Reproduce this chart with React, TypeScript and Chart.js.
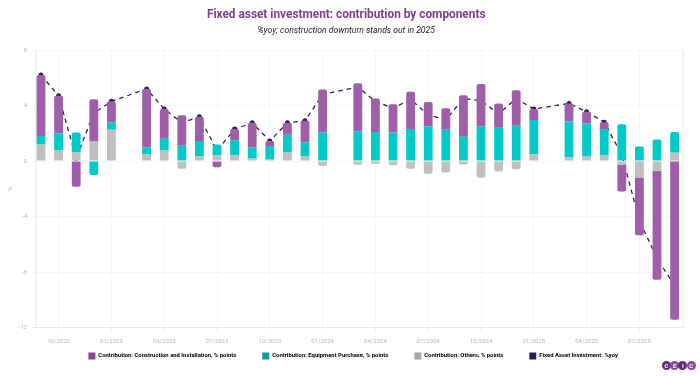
import React, { useEffect, useRef } from "react";
import { Chart, registerables } from "chart.js";

Chart.register(...registerables);

const categories = [
  "09/2022","10/2022","11/2022","12/2022","01/2023","02/2023","03/2023","04/2023","05/2023","06/2023","07/2023","08/2023",
  "09/2023","10/2023","11/2023","12/2023","01/2024","02/2024","03/2024","04/2024","05/2024","06/2024","07/2024","08/2024",
  "09/2024","10/2024","11/2024","12/2024","01/2025","02/2025","03/2025","04/2025","05/2025","06/2025","07/2025","08/2025","09/2025",
];
const construction = [4.4,2.7,-1.85,3.05,1.5,null,4.2,2.15,2.2,1.75,-0.45,0.8,1.75,0.37,0.85,1.55,3.1,null,3.45,2.4,2.05,2.7,1.75,1.55,3.0,3.05,1.75,2.55,0.8,null,1.3,0.85,0.5,-1.95,-4.12,-7.85,-11.45];
const equipment = [0.6,1.2,1.4,-1.0,0.55,null,0.5,0.8,1.1,1.1,0.8,1.08,0.8,0.93,1.25,1.0,2.05,null,2.15,2.1,2.05,2.3,2.5,2.25,1.75,2.5,2.4,2.55,2.47,null,2.6,2.37,1.9,2.65,1.05,1.56,1.5];
const others = [1.2,0.8,0.65,1.4,2.25,null,0.5,0.8,-0.55,0.35,0.4,0.42,0.2,0.15,0.65,0.35,-0.35,null,-0.27,-0.2,-0.3,-0.55,-0.92,-0.82,-0.25,-1.2,-0.75,-0.6,0.48,null,0.25,0.33,0.4,-0.25,-1.23,-0.7,0.6];
const total = [6.2,4.7,0.2,3.45,4.3,null,5.2,3.75,2.75,3.2,0.75,2.3,2.75,1.45,2.75,2.9,4.8,null,5.33,4.3,3.8,4.45,3.33,2.98,4.5,4.35,3.4,4.5,3.75,null,4.15,3.55,2.8,0.45,-4.3,-7.0,-9.0];
const seriesNames = [
  "Contribution: Construction and Installation, % points",
  "Contribution: Equipment Purchase, % points",
  "Contribution: Others, % points",
  "Fixed Asset Investment: %yoy",
];
const legendColors = ["#87488f", "#0a9a98", "#a8a8a8", "#2b1e57"];
const logoLetters = ["C", "E", "I", "C"];
const FONT = "Roboto, sans-serif";

const isQuarterTick = (label: string) => ["01", "04", "07", "10"].includes(label.slice(0, 2));

export default function App() {
  const ref = useRef<HTMLCanvasElement | null>(null);
  useEffect(() => {
    document.body.style.margin = "0";
    const chart = new Chart(ref.current!, {
      data: {
        labels: categories,
        datasets: [
          { type: "bar", label: seriesNames[0], data: construction, backgroundColor: "#a05daa", order: 3, borderRadius: 2 },
          { type: "bar", label: seriesNames[1], data: equipment, backgroundColor: "#00c9c9", order: 2, borderRadius: 2 },
          { type: "bar", label: seriesNames[2], data: others, backgroundColor: "#bfbfbf", order: 1, borderRadius: 2 },
          {
            type: "line", label: seriesNames[3], data: total, borderColor: "#2b1e57", backgroundColor: "#2b1e57",
            borderWidth: 1.3, borderDash: [4.5, 4], pointRadius: 2.5, pointBorderWidth: 0, spanGaps: true, tension: 0, order: 10,
          },
        ],
      } as any,
      options: {
        responsive: false,
        animation: false,
        layout: { padding: { left: 5, right: 16.6, top: 0, bottom: 5.5 } },
        datasets: { bar: { barPercentage: 0.5, categoryPercentage: 1 } },
        plugins: {
          title: {
            display: true, text: "Fixed asset investment: contribution by components",
            color: "#7f3f8c", font: { family: FONT, size: 11.85, weight: "bold" }, padding: { top: 7.5, bottom: 3.5 },
          },
          subtitle: {
            display: true, text: "%yoy; construction downturn stands out in 2025",
            color: "#222222", font: { family: FONT, size: 8.6, style: "italic" }, padding: { top: 0, bottom: 14.5 },
          },
          legend: {
            position: "bottom",
            labels: {
              boxWidth: 7, boxHeight: 7, padding: 26, color: "#222222",
              font: { family: FONT, size: 5.9, weight: "bold" },
              generateLabels: () => seriesNames.map((text, i) => ({
                text, fillStyle: legendColors[i], strokeStyle: legendColors[i], lineWidth: 0, datasetIndex: i, hidden: false,
              })),
            },
          },
          tooltip: { enabled: false },
        },
        scales: {
          x: {
            stacked: true,
            grid: {
              offset: false,
              color: (ctx: any) => (ctx.tick && isQuarterTick(categories[ctx.tick.value]) ? "#f6f6f6" : "rgba(0,0,0,0)"),
              tickColor: (ctx: any) => (ctx.tick && isQuarterTick(categories[ctx.tick.value]) ? "#ececec" : "rgba(0,0,0,0)"),
              tickLength: 3,
            },
            border: { color: "#e9e9e9" },
            ticks: {
              autoSkip: false, maxRotation: 0, minRotation: 0, color: "#b5b5bd", padding: 7,
              font: { family: FONT, size: 6 },
              callback: (_: any, i: number) => (isQuarterTick(categories[i]) ? categories[i] : ""),
            },
            afterFit: (s: any) => { s.height = 0; },
          },
          y: {
            stacked: true, min: -12, max: 8,
            title: { display: true, text: "%", color: "#b5b5bd", font: { family: FONT, size: 6 }, padding: 2 },
            grid: { color: "#f6f6f6", drawTicks: false },
            border: { display: false },
            ticks: { stepSize: 4, color: "#b5b5bd", padding: 5, font: { family: FONT, size: 6 } },
            afterFit: (s: any) => { s.width = 27.2; },
          },
        },
      } as any,
      plugins: [
        {
          id: "frameAndLegendShift",
          afterLayout(c: any) {
            if (c.legend) {
              c.legend.top -= 1;
              c.legend.left += 9;
              c.legend.right += 9;
            }
            c.boxes.forEach((b: any) => {
              if (b.options && b.options.text) {
                b.left += 2;
                b.right += 2;
              }
            });
            c.scales.x.bottom = c.scales.x.top + 24;
          },
          beforeDatasetsDraw(c: any) {
            const { ctx, chartArea: a } = c;
            ctx.save();
            ctx.strokeStyle = "#eeeeee";
            ctx.lineWidth = 1.5;
            ctx.beginPath();
            ctx.moveTo(a.left + 3.5, a.top);
            ctx.lineTo(a.left + 3.5, a.bottom);
            ctx.moveTo(a.right, a.top);
            ctx.lineTo(a.right, a.bottom);
            ctx.stroke();
            ctx.restore();
          },
        },
      ],
    });
    return () => chart.destroy();
  }, []);
  return (
    <div style={{ position: "relative", width: 700, height: 376, overflow: "hidden", background: "#fff" }}>
      <canvas ref={ref} width={700} height={376} style={{ display: "block" }} />
      <div style={{ position: "absolute", left: 662, top: 361, display: "flex" }}>
        {logoLetters.map((l, i) => (
          <span key={i} style={{
            width: 9, height: 9, marginRight: -0.8, borderRadius: "50%", background: i % 2 ? "#8a4a96" : "#5f2a78", color: "#fff",
            fontFamily: FONT, fontSize: 6, fontWeight: 700, lineHeight: "9px", textAlign: "center", display: "block",
          }}>{l}</span>
        ))}
      </div>
    </div>
  );
}
